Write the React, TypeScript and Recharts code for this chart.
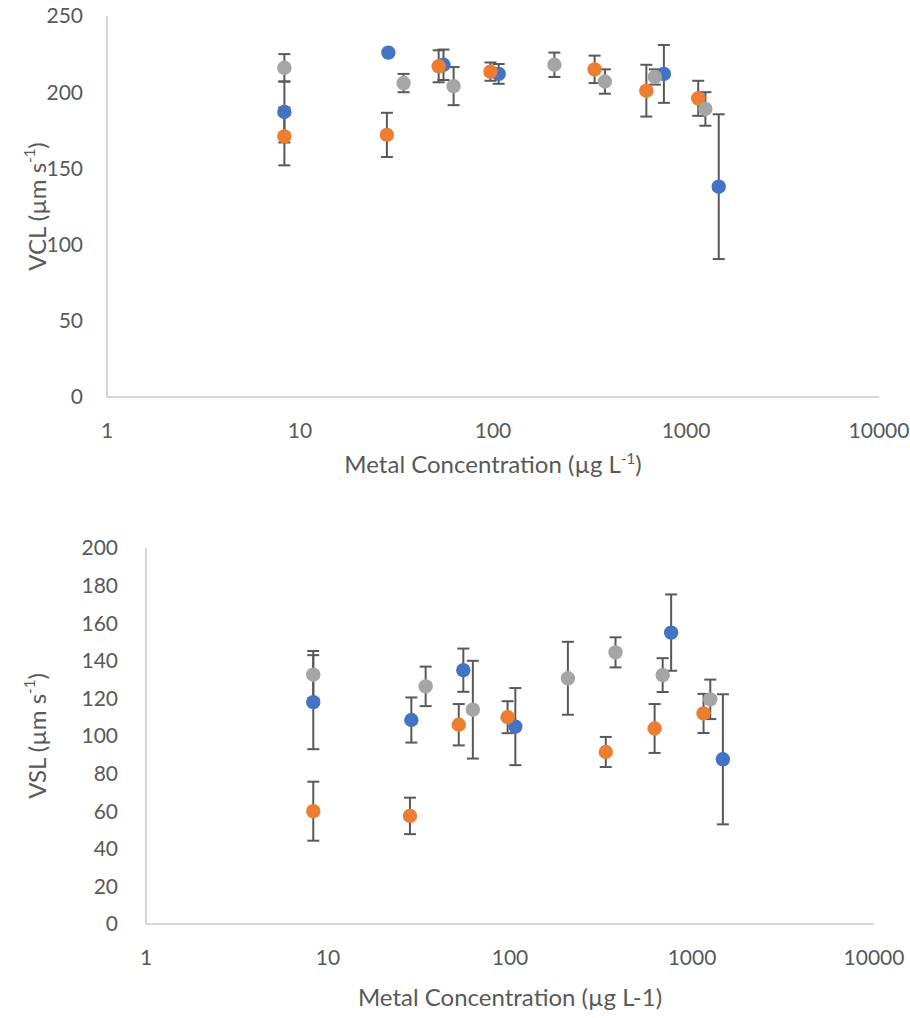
import React from "react";
import { ScatterChart, Scatter, XAxis, YAxis, ErrorBar } from "recharts";

// Nominal metal concentrations (µg L-1) for each of the three series
const blueConc = [8.3, 28.7, 55.4, 107, 768, 1478];
const orangeConc = [8.3, 28.2, 52.3, 97, 336, 623, 1157];
const grayConc = [8.3, 34.4, 62.5, 208, 380, 690, 1260];

// Curvilinear velocity (VCL, µm s-1) and error
const blueVCL = [187, 226, 218, 212, 212, 138];
const blueVCLErr = [20, 1.5, 10, 6.5, 19, 47.5];
const orangeVCL = [171, 172, 217, 213.5, 215, 201, 196];
const orangeVCLErr = [19, 14.5, 10.5, 6, 9, 17, 11.5];
const grayVCL = [216, 206, 204, 218, 207, 210, 189];
const grayVCLErr = [9, 6, 12.5, 8, 8, 5, 11];

// Straight-line velocity (VSL, µm s-1) and error
const blueVSL = [118, 108.5, 135, 105, 155, 87.6];
const blueVSLErr = [25, 12, 11.5, 20.5, 20.3, 34.6];
const orangeVSL = [60, 57.5, 106, 110, 91.5, 104, 112];
const orangeVSLErr = [15.7, 9.7, 11, 8.5, 8, 13, 10.4];
const grayVSL = [132.6, 126.4, 114, 130.7, 144.5, 132.4, 119.5];
const grayVSLErr = [12.6, 10.5, 26, 19.4, 8, 9, 10.5];

const xTicks = [1, 10, 100, 1000, 10000];
const vclTicks = [0, 50, 100, 150, 200, 250];
const vslTicks = [0, 20, 40, 60, 80, 100, 120, 140, 160, 180, 200];

const BLUE = "#4472C4";
const ORANGE = "#ED7D31";
const GRAY = "#A5A5A5";
const BAR = "#595959";
const AXIS = "#C9C9C9";
const TEXT = "#595959";
const FONT = "Lato, 'Open Sans', sans-serif";

const build = (xs: number[], ys: number[], es: number[]) =>
  xs.map((x, i) => ({ x, y: ys[i], err: es[i] }));

const dot = (color: string) => (p: any) =>
  <circle cx={p.cx} cy={p.cy} r={7.2} fill={color} />;

function YTitle({ viewBox, name }: any) {
  const cx = 40;
  const cy = viewBox.y + viewBox.height / 2;
  return (
    <text
      x={cx}
      y={cy}
      transform={`rotate(-90 ${cx} ${cy})`}
      textAnchor="middle"
      dominantBaseline="middle"
      fill={TEXT}
      fontSize={24}
      fontFamily={FONT}
    >
      {name} (µm s
      <tspan dy={-9} fontSize={15}>-1</tspan>
      <tspan dy={9}>)</tspan>
    </text>
  );
}

function XTitle({ viewBox, dyTitle, superscript }: any) {
  const cx = viewBox.x + viewBox.width / 2;
  const cy = viewBox.y + dyTitle;
  return (
    <text x={cx} y={cy} textAnchor="middle" fill={TEXT} fontSize={24} fontFamily={FONT}>
      {superscript ? (
        <>
          Metal Concentration (µg L
          <tspan dy={-9} fontSize={15}>-1</tspan>
          <tspan dy={9}>)</tspan>
        </>
      ) : (
        "Metal Concentration (µg L-1)"
      )}
    </text>
  );
}

function Panel(props: any) {
  const {
    width, height, top, yWidth, right, xHeight, yMax, yTicks, yName,
    sets, dyTitle, superscript, yTickMargin,
  } = props;
  const tick = { fill: TEXT, fontSize: 21, fontFamily: FONT };
  return (
    <ScatterChart
      width={width}
      height={height}
      margin={{ top, right, bottom: 0, left: 0 }}
    >
      <XAxis
        type="number"
        dataKey="x"
        scale="log"
        domain={[1, 10000]}
        ticks={xTicks}
        allowDataOverflow
        height={xHeight}
        tickLine={false}
        axisLine={{ stroke: AXIS, strokeWidth: 1.5 }}
        tick={tick}
        tickMargin={20}
        label={<XTitle dyTitle={dyTitle} superscript={superscript} />}
      />
      <YAxis
        type="number"
        dataKey="y"
        domain={[0, yMax]}
        ticks={yTicks}
        width={yWidth}
        tickLine={false}
        axisLine={{ stroke: AXIS, strokeWidth: 1.5 }}
        tick={tick}
        tickMargin={yTickMargin}
        label={<YTitle name={yName} />}
      />
      {sets.map((s: any) => (
        <Scatter
          key={s.name}
          name={s.name}
          data={s.data}
          shape={dot(s.color)}
          isAnimationActive={false}
        >
          <ErrorBar
            dataKey="err"
            direction="y"
            width={6}
            stroke={BAR}
            strokeWidth={2}
            isAnimationActive={false}
          />
        </Scatter>
      ))}
    </ScatterChart>
  );
}

export default function App() {
  const vclSets = [
    { name: "blue", color: BLUE, data: build(blueConc, blueVCL, blueVCLErr) },
    { name: "orange", color: ORANGE, data: build(orangeConc, orangeVCL, orangeVCLErr) },
    { name: "gray", color: GRAY, data: build(grayConc, grayVCL, grayVCLErr) },
  ];
  const vslSets = [
    { name: "blue", color: BLUE, data: build(blueConc, blueVSL, blueVSLErr) },
    { name: "orange", color: ORANGE, data: build(orangeConc, orangeVSL, orangeVSLErr) },
    { name: "gray", color: GRAY, data: build(grayConc, grayVSL, grayVSLErr) },
  ];
  return (
    <div style={{ position: "absolute", left: 0, top: 0, width: 910, height: 1018, background: "#fff" }}>
      <div style={{ position: "absolute", left: 0, top: 0 }}>
        <Panel
          width={910}
          height={490}
          top={16}
          right={31}
          yWidth={107}
          xHeight={93}
          yMax={250}
          yTicks={vclTicks}
          yName="VCL"
          sets={vclSets}
          dyTitle={76}
          superscript
          yTickMargin={18}
        />
      </div>
      <div style={{ position: "absolute", left: 0, top: 500 }}>
        <Panel
          width={910}
          height={518}
          top={48}
          right={36}
          yWidth={146}
          xHeight={94}
          yMax={200}
          yTicks={vslTicks}
          yName="VSL"
          sets={vslSets}
          dyTitle={82}
          superscript={false}
          yTickMargin={22}
        />
      </div>
    </div>
  );
}
